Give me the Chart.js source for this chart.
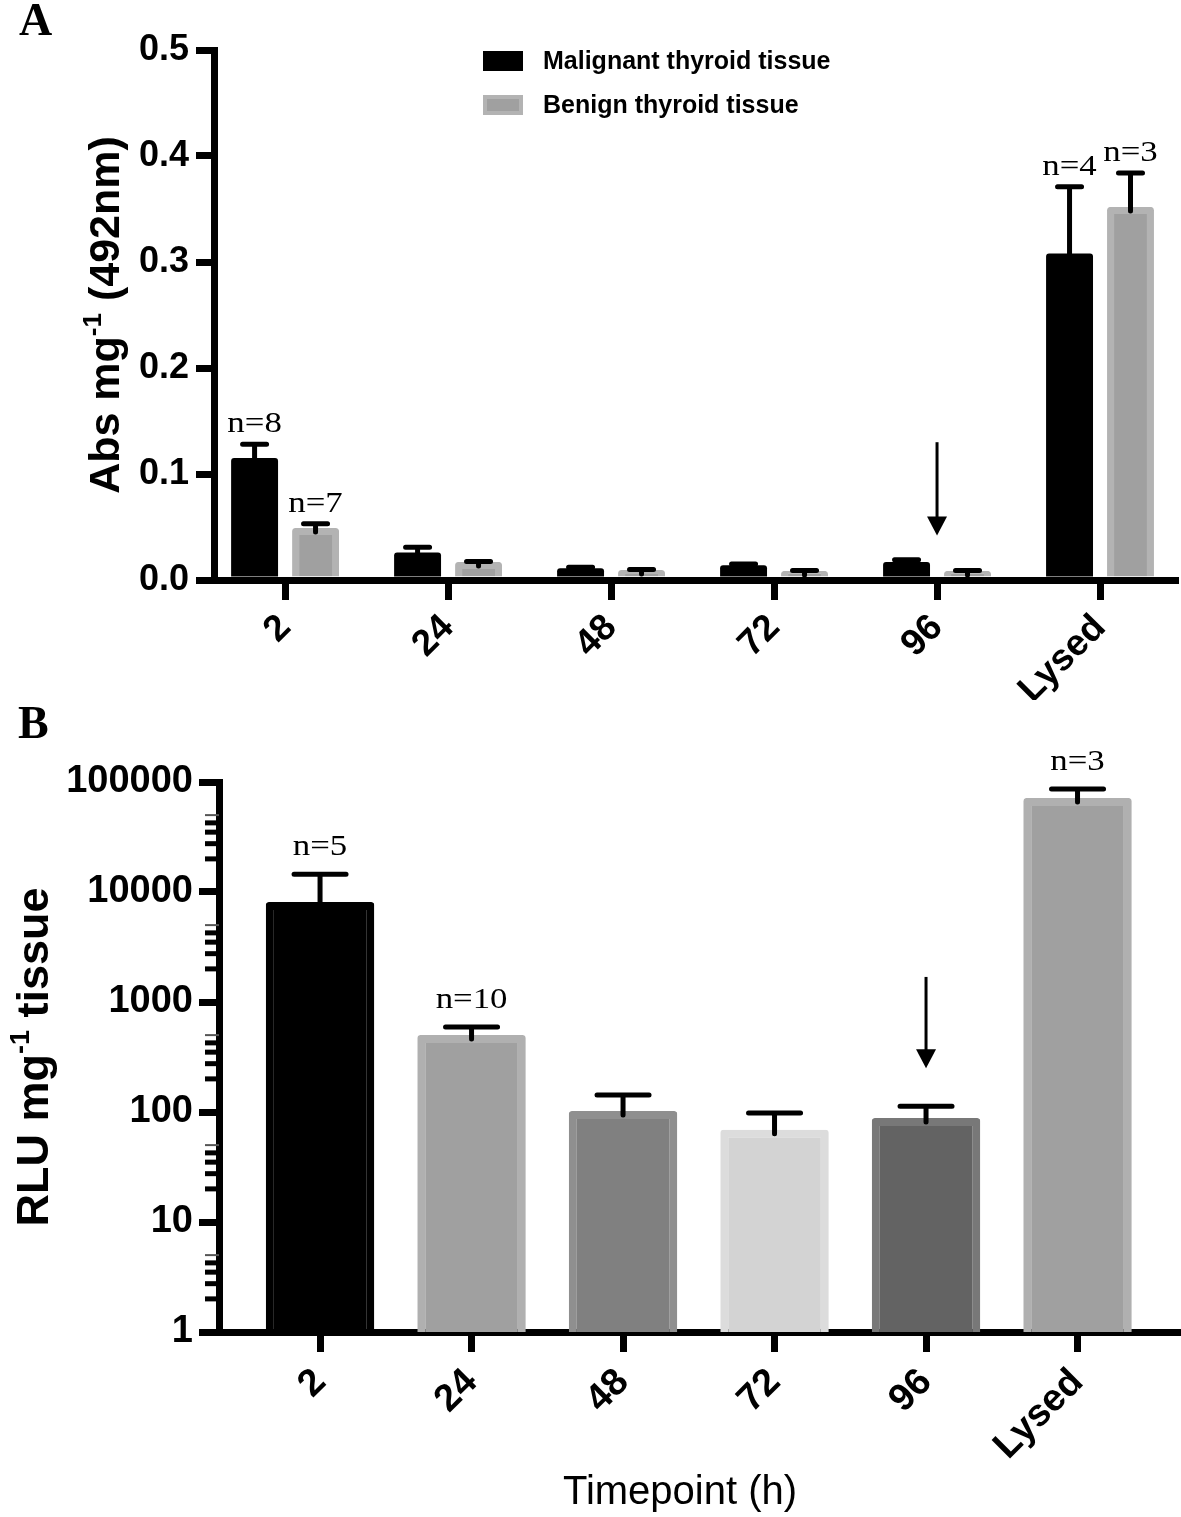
<!DOCTYPE html>
<html>
<head>
<meta charset="utf-8">
<script src="https://cdn.jsdelivr.net/npm/chart.js@4.4.0/dist/chart.umd.min.js"></script>
<style>
  body { margin: 0; background: #fff; }
  #wrap { position: relative; width: 1181px; height: 1517px; background: #fff; }
  canvas { position: absolute; left: 0; }
  #chartA { top: 0; }
  #chartB { top: 700px; }
</style>
</head>
<body>
<div id="wrap">
  <canvas id="chartA" width="1181" height="700"></canvas>
  <canvas id="chartB" width="1181" height="817"></canvas>
</div>
<script>
const timepoints = ['2', '24', '48', '72', '96', 'Lysed'];

// Panel A - absorbance per mg tissue
const malignantAbs = [0.115, 0.026, 0.011, 0.014, 0.017, 0.308];
const malignantAbsErr = [0.013, 0.005, 0.001, 0.001, 0.002, 0.063];
const malignantN = ['n=8', '', '', '', '', 'n=4'];
const benignAbs = [0.049, 0.017, 0.0094, 0.0085, 0.0085, 0.352];
const benignAbsErr = [0.004, 0.0005, 0.0005, 0.0005, 0.0005, 0.032];
const benignN = ['n=7', '', '', '', '', 'n=3'];
const absTicks = [0, 0.1, 0.2, 0.3, 0.4, 0.5];
const arrowA = { index: 4, from: 0.13, to: 0.042 };

// Panel B - luminescence per mg tissue
const rlu = [8100, 500, 102, 69, 88, 71600];
const rluErr = [6400, 93, 41, 29, 25, 14700];
const rluN = ['n=5', 'n=10', '', '', '', 'n=3'];
const rluFill = ['#000000', '#a0a0a0', '#808080', '#d3d3d3', '#636363', '#a0a0a0'];
const rluEdge = ['#000000', '#b0b0b0', '#8f8f8f', '#dcdcdc', '#787878', '#b0b0b0'];
const rluTicks = [1, 10, 100, 1000, 10000, 100000];
const rluMinorSteps = [2, 2.75, 3.5, 4.25, 5];
const arrowB = { index: 4, from: 1690, to: 250 };

const SANS = '"Liberation Sans", Arial, sans-serif';
const SERIF = '"Liberation Serif", "Times New Roman", serif';

function pts(values) {
    return values.map((v, i) => ({ x: i, y: v }));
}

// 가로로 늘린 세리프 텍스트 (n=…)
function drawStretched(ctx, text, x, y, size) {
    ctx.save();
    ctx.translate(x, y);
    ctx.scale(1.2, 1);
    ctx.font = `${size}px ${SERIF}`;
    ctx.fillStyle = '#000';
    ctx.textAlign = 'center';
    ctx.textBaseline = 'alphabetic';
    ctx.fillText(text, 0, 0);
    ctx.restore();
}

// 세로 축 제목 (위첨자 포함)
function drawRotatedTitle(ctx, parts, x, cy, size) {
    ctx.save();
    ctx.translate(x, cy);
    ctx.rotate(-Math.PI / 2);
    ctx.fillStyle = '#000';
    ctx.textBaseline = 'alphabetic';
    const fonts = parts.map(p => p[1] ? `bold ${Math.round(size * 0.6)}px ${SANS}` : `bold ${size}px ${SANS}`);
    let total = 0;
    const widths = parts.map((p, i) => { ctx.font = fonts[i]; const w = ctx.measureText(p[0]).width; total += w; return w; });
    let cx = -total / 2;
    parts.forEach((p, i) => {
        ctx.font = fonts[i];
        ctx.textAlign = 'left';
        ctx.fillText(p[0], cx, p[1] ? -size * 0.42 : 0);
        cx += widths[i];
    });
    ctx.restore();
}

function drawArrow(ctx, x, y1, y2) {
    ctx.save();
    ctx.strokeStyle = '#000';
    ctx.fillStyle = '#000';
    ctx.lineWidth = 3;
    ctx.beginPath();
    ctx.moveTo(x, y1);
    ctx.lineTo(x, y2 - 18);
    ctx.stroke();
    ctx.beginPath();
    ctx.moveTo(x - 10, y2 - 19);
    ctx.lineTo(x + 10, y2 - 19);
    ctx.lineTo(x, y2);
    ctx.closePath();
    ctx.fill();
    ctx.restore();
}

// 에러바, n 라벨, 화살표, 제목 등을 그리는 플러그인
function annotate(cfg) {
    return {
        id: 'annotate',
        afterDatasetsDraw(chart) {
            const { ctx } = chart;
            const yScale = chart.scales.y;
            cfg.errors.forEach((errs, di) => {
                const meta = chart.getDatasetMeta(di);
                const values = cfg.values[di];
                meta.data.forEach((bar, i) => {
                    const top = yScale.getPixelForValue(values[i] + errs[i]);
                    ctx.save();
                    ctx.strokeStyle = '#000';
                    ctx.lineWidth = 5;
                    ctx.lineCap = 'round';
                    ctx.beginPath();
                    ctx.moveTo(bar.x, bar.y + 4);
                    ctx.lineTo(bar.x, top);
                    ctx.moveTo(bar.x - cfg.capWidth / 2, top);
                    ctx.lineTo(bar.x + cfg.capWidth / 2, top);
                    ctx.stroke();
                    ctx.restore();
                    const label = cfg.labels[di][i];
                    if (label) drawStretched(ctx, label, bar.x, top - cfg.labelGap, 29);
                });
            });
        },
        afterDraw(chart) {
            const { ctx, chartArea } = chart;
            const xScale = chart.scales.x;
            const yScale = chart.scales.y;
            const ax = xScale.getPixelForValue(cfg.arrow.index);
            drawArrow(ctx, ax, yScale.getPixelForValue(cfg.arrow.from), yScale.getPixelForValue(cfg.arrow.to));

            drawRotatedTitle(ctx, cfg.yTitle, cfg.yTitleX, (chartArea.top + chartArea.bottom) / 2, cfg.yTitleSize);

            ctx.save();
            ctx.fillStyle = '#000';
            ctx.font = `bold 46px ${SERIF}`;
            ctx.textAlign = 'left';
            ctx.textBaseline = 'alphabetic';
            ctx.fillText(cfg.letter, cfg.letterPos[0], cfg.letterPos[1]);
            ctx.restore();

            if (cfg.extra) cfg.extra(chart);
        }
    };
}

// Panel A
new Chart(document.getElementById('chartA'), {
    type: 'bar',
    data: {
        datasets: [{
            label: 'Malignant thyroid tissue',
            data: pts(malignantAbs),
            backgroundColor: '#000000',
            borderColor: '#000000',
            borderWidth: 0,
            borderRadius: 3
        }, {
            label: 'Benign thyroid tissue',
            data: pts(benignAbs),
            backgroundColor: '#a0a0a0',
            borderColor: '#b3b3b3',
            borderWidth: 7,
            borderRadius: 3,
            borderSkipped: 'start'
        }]
    },
    options: {
        responsive: false,
        animation: false,
        events: [],
        layout: { padding: { top: 50, right: 6, left: 0, bottom: 0 } },
        datasets: { bar: { categoryPercentage: 0.748, barPercentage: 0.77 } },
        plugins: { legend: { display: false }, tooltip: { enabled: false } },
        scales: {
            x: {
                type: 'linear',
                min: -0.436,
                max: 5.46,
                offset: false,
                z: 1,
                afterBuildTicks: s => { s.ticks = timepoints.map((_, i) => ({ value: i })); },
                afterFit: s => { s.height = 120; },
                grid: { offset: false, drawOnChartArea: false, color: '#000', lineWidth: 7, tickLength: 20 },
                border: { color: '#000', width: 7 },
                ticks: {
                    autoSkip: false, minRotation: 45, maxRotation: 45, padding: 6, color: '#000',
                    font: { family: SANS, weight: 'bold', size: 37 },
                    callback: v => timepoints[v]
                }
            },
            y: {
                min: 0,
                max: 0.5,
                z: 1,
                afterBuildTicks: s => { s.ticks = absTicks.map(v => ({ value: v })); },
                afterFit: s => { s.width = 214; },
                grid: { drawOnChartArea: false, color: '#000', lineWidth: 7, tickLength: 18 },
                border: { color: '#000', width: 7 },
                ticks: {
                    padding: 7, color: '#000',
                    font: { family: SANS, weight: 'bold', size: 36 },
                    callback: v => v.toFixed(1)
                }
            }
        }
    },
    plugins: [annotate({
        values: [malignantAbs, benignAbs],
        errors: [malignantAbsErr, benignAbsErr],
        labels: [malignantN, benignN],
        capWidth: 24,
        labelGap: 12,
        arrow: arrowA,
        yTitle: [['Abs mg', false], ['-1', true], [' (492nm)', false]],
        yTitleX: 119,
        yTitleSize: 43,
        letter: 'A',
        letterPos: [19, 35],
        extra(chart) {
            // 범례
            const ctx = chart.ctx;
            const ds = chart.data.datasets;
            ctx.save();
            ctx.fillStyle = '#000000';
            ctx.fillRect(483, 51, 40, 20);
            ctx.fillStyle = '#b3b3b3';
            ctx.fillRect(483, 95, 40, 20);
            ctx.fillStyle = '#a0a0a0';
            ctx.fillRect(487, 99, 32, 12);
            ctx.fillStyle = '#000';
            ctx.font = `bold 25px ${SANS}`;
            ctx.textAlign = 'left';
            ctx.textBaseline = 'middle';
            ctx.fillText(ds[0].label, 543, 62);
            ctx.fillText(ds[1].label, 543, 106);
            ctx.restore();
        }
    })]
});

// Panel B
new Chart(document.getElementById('chartB'), {
    type: 'bar',
    data: {
        datasets: [{
            label: 'RLU',
            data: pts(rlu),
            backgroundColor: rluFill,
            borderColor: rluEdge,
            borderWidth: 8,
            borderRadius: 3,
            borderSkipped: 'start'
        }]
    },
    options: {
        responsive: false,
        animation: false,
        events: [],
        layout: { padding: { top: 82, right: 0, left: 0, bottom: 0 } },
        datasets: { bar: { categoryPercentage: 0.716, barPercentage: 1 } },
        plugins: { legend: { display: false }, tooltip: { enabled: false } },
        scales: {
            x: {
                type: 'linear',
                min: -0.667,
                max: 5.683,
                offset: false,
                z: 1,
                afterBuildTicks: s => { s.ticks = timepoints.map((_, i) => ({ value: i })); },
                afterFit: s => { s.height = 185; },
                grid: { offset: false, drawOnChartArea: false, color: '#000', lineWidth: 7, tickLength: 20 },
                border: { color: '#000', width: 7 },
                ticks: {
                    autoSkip: false, minRotation: 45, maxRotation: 45, padding: 8, color: '#000',
                    font: { family: SANS, weight: 'bold', size: 38 },
                    callback: v => timepoints[v]
                }
            },
            y: {
                type: 'logarithmic',
                min: 1,
                max: 100000,
                z: 1,
                afterBuildTicks: s => { s.ticks = rluTicks.map(v => ({ value: v, major: true })); },
                afterFit: s => { s.width = 219; },
                grid: { drawOnChartArea: false, color: '#000', lineWidth: 7, tickLength: 20 },
                border: { color: '#000', width: 7 },
                ticks: {
                    padding: 6, color: '#000',
                    font: { family: SANS, weight: 'bold', size: 38 },
                    callback: v => String(v)
                }
            }
        }
    },
    plugins: [annotate({
        values: [rlu],
        errors: [rluErr],
        labels: [rluN],
        capWidth: 52,
        labelGap: 19,
        arrow: arrowB,
        yTitle: [['RLU mg', false], ['-1', true], [' tissue', false]],
        yTitleX: 48,
        yTitleSize: 45,
        letter: 'B',
        letterPos: [18, 38],
        extra(chart) {
            const { ctx, chartArea } = chart;
            const yScale = chart.scales.y;
            // 보조 눈금
            ctx.save();
            rluTicks.slice(0, -1).forEach(base => {
                rluMinorSteps.forEach((m, k) => {
                    const py = yScale.getPixelForValue(base * m);
                    const last = k === rluMinorSteps.length - 1;
                    ctx.strokeStyle = last ? '#555' : '#000';
                    ctx.lineWidth = last ? 2 : 5;
                    ctx.beginPath();
                    ctx.moveTo(chartArea.left - 14, py);
                    ctx.lineTo(chartArea.left, py);
                    ctx.stroke();
                });
            });
            // x축 제목
            ctx.fillStyle = '#000';
            ctx.font = `40px ${SANS}`;
            ctx.textAlign = 'center';
            ctx.textBaseline = 'alphabetic';
            ctx.fillText('Timepoint (h)', 680, 804);
            ctx.restore();
        }
    })]
});
</script>
</body>
</html>
